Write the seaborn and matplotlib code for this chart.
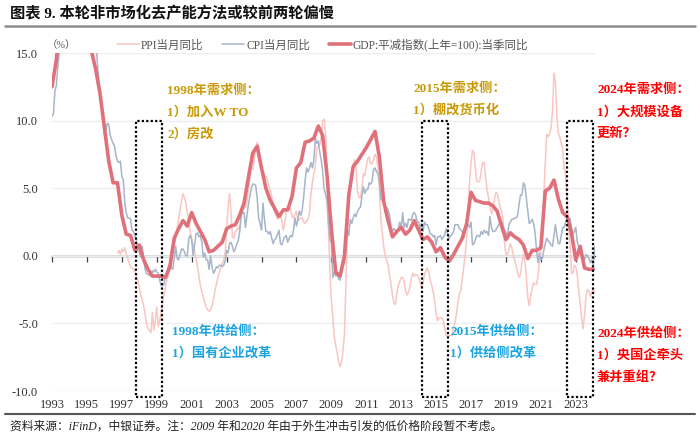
import numpy as np
import pandas as pd
import matplotlib
matplotlib.use("Agg")
import matplotlib.pyplot as plt
from matplotlib.patches import Rectangle
from matplotlib.lines import Line2D
import seaborn as sns

# CPI当月同比, 1993-01 .. 2024-02
cpi = [
    10.3, 10.5, 12.2, 12.6, 14.0, 15.1, 16.2, 16.0, 15.7, 16.1, 17.8, 18.8,
    21.1, 23.2, 22.4, 21.7, 21.3, 22.6, 24.0, 25.8, 27.4, 27.7, 27.5, 25.5,
    24.1, 22.4, 21.3, 20.7, 20.3, 18.2, 16.7, 14.5, 13.2, 12.1, 11.2, 10.1,
    9.0, 9.3, 9.8, 9.7, 8.9, 8.6, 8.3, 8.1, 7.4, 7.0, 6.9, 7.0,
    5.9, 5.6, 4.0, 3.2, 2.8, 2.8, 2.7, 1.9, 1.8, 1.5, 1.1, 0.4,
    0.3, -0.1, 0.7, -0.3, -1.0, -1.3, -1.4, -1.4, -1.5, -1.1, -1.2, -1.0,
    -1.2, -1.3, -1.8, -2.2, -2.2, -2.1, -1.4, -1.3, -0.8, -0.6, -0.9, -1.0,
    -0.2, 0.7, -0.2, -0.3, 0.1, 0.5, 0.5, 0.3, 0.0, 0.0, 1.3, 1.5,
    1.2, 0.0, 0.8, 1.6, 1.7, 1.4, 1.5, 1.0, -0.1, 0.2, -0.3, -0.3,
    -1.0, 0.0, -0.8, -1.3, -1.1, -0.8, -0.9, -0.7, -0.7, -0.8, -0.7, -0.4,
    0.4, 0.2, 0.9, 1.0, 0.7, 0.3, 0.5, 0.9, 1.1, 1.8, 3.0, 3.2,
    3.2, 2.1, 3.0, 3.8, 4.4, 5.0, 5.3, 5.3, 5.2, 4.3, 2.8, 2.4,
    1.9, 3.9, 2.7, 1.8, 1.8, 1.6, 1.8, 1.3, 0.9, 1.2, 1.3, 1.6,
    1.9, 0.9, 0.8, 1.2, 1.4, 1.5, 1.0, 1.3, 1.5, 1.4, 1.9, 2.8,
    2.2, 2.7, 3.3, 3.0, 3.4, 4.4, 5.6, 6.5, 6.2, 6.5, 6.9, 6.5,
    7.1, 8.7, 8.3, 8.5, 7.7, 7.1, 6.3, 4.9, 4.6, 4.0, 2.4, 1.2,
    1.0, -1.6, -1.2, -1.5, -1.4, -1.7, -1.8, -1.2, -0.8, -0.5, 0.6, 1.9,
    1.5, 2.7, 2.4, 2.8, 3.1, 2.9, 3.3, 3.5, 3.6, 4.4, 5.1, 4.6,
    4.9, 4.9, 5.4, 5.3, 5.5, 6.4, 6.5, 6.2, 6.1, 5.5, 4.2, 4.1,
    4.5, 3.2, 3.6, 3.4, 3.0, 2.2, 1.8, 2.0, 1.9, 1.7, 2.0, 2.5,
    2.0, 3.2, 2.1, 2.4, 2.1, 2.7, 2.7, 2.6, 3.1, 3.2, 3.0, 2.5,
    2.5, 2.0, 2.4, 1.8, 2.5, 2.3, 2.3, 2.0, 1.6, 1.6, 1.4, 1.5,
    0.8, 1.4, 1.4, 1.5, 1.2, 1.4, 1.6, 2.0, 1.6, 1.3, 1.5, 1.6,
    1.8, 2.3, 2.3, 2.3, 2.0, 1.9, 1.8, 1.3, 1.9, 2.1, 2.3, 2.1,
    2.5, 0.8, 0.9, 1.2, 1.5, 1.5, 1.4, 1.8, 1.6, 1.9, 1.7, 1.8,
    1.5, 2.9, 2.1, 1.8, 1.8, 1.9, 2.1, 2.3, 2.5, 2.5, 2.2, 1.9,
    1.7, 1.5, 2.3, 2.5, 2.7, 2.7, 2.8, 2.8, 3.0, 3.8, 4.5, 4.5,
    5.4, 5.2, 4.3, 3.3, 2.4, 2.5, 2.7, 2.4, 1.7, 0.5, -0.5, 0.2,
    -0.3, -0.2, 0.4, 0.9, 1.3, 1.1, 1.0, 0.8, 0.7, 1.5, 2.3, 1.5,
    0.9, 0.9, 1.5, 2.1, 2.1, 2.5, 2.7, 2.5, 2.8, 2.1, 1.6, 1.8,
    2.1, 1.0, 0.7, 0.1, 0.2, 0.0, -0.3, 0.1, 0.0, -0.2, -0.5, -0.3,
    -0.8, 0.7,
]

# PPI当月同比, 1996-10 .. 2024-02
ppi = [
    0.2, 0.4, 0.1,
    0.5, 0.3, 0.6, 0.2, -0.2, -0.5, -0.8, -0.9, -1.0, -1.2, -1.5, -1.8,
    -2.4, -2.9, -3.3, -3.7, -4.3, -5.0, -5.4, -5.5, -5.7, -4.2, -5.5, -4.8,
    -3.8, -5.2, -4.8, -4.2, -3.4, -2.8, -2.3, -1.8, -1.3, -1.0, -0.6, 0.2,
    0.8, 1.3, 2.0, 2.7, 3.4, 4.0, 4.6, 4.3, 3.9, 3.2, 2.5, 1.8,
    1.3, 0.8, 0.4, -0.2, -0.8, -1.5, -2.2, -2.7, -3.0, -3.5, -3.8, -4.0,
    -4.1, -4.0, -3.7, -3.2, -2.6, -2.1, -1.6, -1.2, -0.9, -0.6, -0.3, 0.2,
    2.0, 3.6, 4.6, 3.3, 1.4, 1.3, 1.8, 1.9, 2.1, 1.9, 3.0, 3.4,
    3.5, 3.6, 4.0, 5.0, 5.7, 6.4, 6.4, 7.1, 7.9, 8.4, 8.1, 7.1,
    6.6, 6.2, 5.9, 5.9, 5.6, 5.2, 4.8, 4.4, 3.9, 3.2, 3.0, 2.7,
    3.0, 3.0, 2.5, 1.9, 2.4, 3.5, 3.6, 3.4, 3.5, 2.9, 2.8, 3.1,
    3.3, 2.6, 2.7, 2.8, 2.8, 2.5, 2.4, 2.6, 2.7, 3.2, 4.6, 5.4,
    6.1, 6.6, 8.0, 8.1, 8.2, 8.8, 10.0, 10.1, 9.1, 6.6, 2.0, -1.1,
    -3.3, -4.5, -6.0, -6.6, -7.2, -7.8, -8.2, -7.9, -7.0, -5.8, -2.1, 1.7,
    4.3, 5.4, 5.9, 6.8, 7.1, 6.4, 4.8, 4.3, 4.3, 5.0, 6.1, 5.9,
    6.6, 7.2, 7.3, 6.8, 6.8, 7.1, 7.5, 7.3, 6.5, 5.0, 2.7, 1.7,
    0.7, 0.0, -0.3, -0.7, -1.4, -2.1, -2.9, -3.5, -3.6, -2.8, -2.2, -1.9,
    -1.6, -1.6, -1.9, -2.6, -2.9, -2.7, -2.3, -1.6, -1.3, -1.5, -1.4, -1.4,
    -1.6, -2.0, -2.3, -2.0, -1.4, -1.1, -0.9, -1.2, -1.8, -2.2, -2.7, -3.3,
    -4.3, -4.8, -4.6, -4.6, -4.6, -4.8, -5.4, -5.9, -5.9, -5.9, -5.9, -5.9,
    -5.3, -4.9, -4.3, -3.4, -2.8, -2.6, -1.7, -0.8, 0.1, 1.2, 3.3, 5.5,
    6.9, 7.8, 7.6, 6.4, 5.5, 5.5, 5.5, 6.3, 6.9, 6.9, 5.8, 4.9,
    4.3, 3.7, 3.1, 3.4, 4.1, 4.7, 4.6, 4.1, 3.6, 3.3, 2.7, 0.9,
    0.1, 0.1, 0.4, 0.9, 0.6, 0.0, -0.3, -0.8, -1.2, -1.6, -1.4, -0.5,
    0.1, -0.4, -1.5, -3.1, -3.7, -3.0, -2.4, -2.0, -2.1, -2.1, -1.5, -0.4,
    0.3, 1.7, 4.4, 6.8, 9.0, 8.8, 9.0, 9.5, 10.7, 13.5, 12.9, 10.3,
    9.1, 8.8, 8.3, 8.0, 6.4, 6.1, 4.2, 2.3, 0.9, -1.3, -1.3, -0.7,
    -0.8, -1.4, -2.5, -3.6, -4.6, -5.4, -4.4, -3.0, -2.5, -2.6, -3.0, -2.7,
    -2.5, -2.7,
]

# GDP:平减指数(上年=100):当季同比, 1993Q1 .. 2024Q1
gdp = [
    12.5, 14.5, 18.0, 19.5,
    21.0, 21.0, 20.5, 19.5,
    17.0, 15.2, 13.8, 12.0,
    9.5, 7.0, 5.4, 5.4,
    3.0, 1.6, 1.5, 0.4,
    0.8, -0.3, -1.0, -1.5,
    -1.5, -1.5, -1.6, -0.8,
    1.3, 2.0, 2.6, 2.2,
    3.2, 2.4, 1.8, 1.2,
    0.3, 0.4, 0.7, 1.0,
    2.0, 2.2, 2.3, 3.0,
    3.9, 5.8, 7.6, 8.1,
    6.5, 5.0, 4.1, 3.5,
    2.9, 3.4, 3.4, 4.4,
    6.5, 6.9, 8.4, 8.5,
    8.7, 9.6, 8.9, 6.0,
    2.0, -1.2, -1.5, 0.0,
    4.5, 6.6, 7.0, 7.5,
    8.0, 8.6, 9.2, 7.3,
    4.0, 2.6, 1.4, 1.8,
    2.1, 1.6, 1.9, 2.6,
    1.9, 1.2, 1.4, 1.0,
    0.3, 0.6, -0.1, -0.4,
    0.1, 0.7, 1.3, 2.4,
    4.7, 4.1, 4.0, 3.9,
    3.9, 3.7, 3.3, 2.2,
    1.2, 1.7, 1.4, 1.2,
    0.8, -0.2, 0.4, 0.4,
    0.6, 4.8, 5.0, 5.6,
    4.2, 3.2, 2.9, 1.7,
    -0.3, 0.7, -0.9, -1.0,
    -1.0,
]

year_ticks = list(range(1993, 2024, 2))
y_ticks = [-10, -5, 0, 5, 10, 15]

labels = ["PPI当月同比", "CPI当月同比", "GDP:平减指数(上年=100):当季同比"]

df_cpi = pd.DataFrame({"t": 1993 + np.arange(len(cpi)) / 12, "v": cpi})
df_ppi = pd.DataFrame({"t": 1996 + 9 / 12 + np.arange(len(ppi)) / 12, "v": ppi})
df_gdp = pd.DataFrame({"t": 1993 + np.arange(len(gdp)) / 4, "v": gdp})

sns.set_style("white")
plt.rcParams['font.family'] = ['Liberation Serif', 'Noto Sans CJK SC']
plt.rcParams['axes.unicode_minus'] = False

W, H = 700, 440
fig = plt.figure(figsize=(7, 4.4), dpi=100)
ax = fig.add_axes([52 / W, 1 - 391 / H, 543 / W, 338 / H])


def px(x, y):
    return x / W, 1 - y / H


sns.lineplot(data=df_ppi, x="t", y="v", ax=ax, color="#F9C6C2", linewidth=1.1, label=labels[0])
sns.lineplot(data=df_cpi, x="t", y="v", ax=ax, color="#A7B4C9", linewidth=1.1, label=labels[1])
sns.lineplot(data=df_gdp, x="t", y="v", ax=ax, color="#E0717A", linewidth=2.6, label=labels[2])

ax.set_xlim(1993, 2024.1)
ax.set_ylim(-10, 15)
ax.set_xlabel("")
ax.set_ylabel("")
for s in ax.spines.values():
    s.set_visible(False)
ax.set_yticks(y_ticks)
ax.set_yticklabels([f"{v:.1f}" for v in y_ticks], fontsize=9, color="#333333")
ax.set_xticks(year_ticks)
ax.set_xticklabels([str(y) for y in year_ticks], fontsize=9, color="#333333")
ax.tick_params(axis="y", length=0, pad=10)
ax.tick_params(axis="x", length=0, pad=6)
ax.grid(axis="y", color="#ECEEF2", linewidth=1)
ax.grid(axis="x", visible=False)

# zero line with small ticks
sec = ax.secondary_xaxis(0.4)
sec.set_xticks(year_ticks)
sec.tick_params(axis="x", length=4, width=0.9, color="#404040", labelbottom=False)
sec.spines["bottom"].set_color("#404040")
sec.spines["bottom"].set_linewidth(1.0)

# dotted boxes
for x0 in [1997.8, 2014.2, 2022.5]:
    ax.add_patch(Rectangle((x0, -10.45), 1.48, 20.45, fill=False, ec="black",
                           lw=1.6, ls=(0, (1, 1)), clip_on=False, zorder=5))

h, l = ax.get_legend_handles_labels()
ax.legend(h, l, loc="center left", bbox_to_anchor=px(117, 45), bbox_transform=fig.transFigure,
          ncol=3, frameon=False, fontsize=8.3, handlelength=1.9, handletextpad=0.2,
          columnspacing=1.6, borderpad=0, borderaxespad=0, labelcolor="#555555")
fig.text(*px(47, 45), "（%）", fontsize=7.5, color="#555555", va="center")

gold, blue, red = "#C99A06", "#1AA3E0", "#FF0000"
notes = [
    (167, 91, "1998年需求侧：", gold), (167, 112, "1）加入W TO", gold), (167, 134, "2）房改", gold),
    (172, 332, "1998年供给侧：", blue), (172, 353, "1）国有企业改革", blue),
    (413, 89, "2015年需求侧：", gold), (413, 110, "1）棚改货币化", gold),
    (450, 332, "2015年供给侧：", blue), (450, 353, "1）供给侧改革", blue),
    (597, 90, "2024年需求侧：", red), (597, 112, "1）大规模设备", red), (597, 134, "更新？", red),
    (597, 334, "2024年供给侧：", red), (597, 355, "1）央国企牵头", red), (597, 377, "兼并重组？", red),
]
for x, y, s, c in notes:
    fig.text(*px(x, y), s, fontsize=9.5, fontweight="bold", color=c, va="center")

fig.text(*px(10, 14), "图表 9. 本轮非市场化去产能方法或较前两轮偏慢", fontsize=11,
         fontweight="bold", color="#111111", va="center")
fig.add_artist(Line2D([5 / W, 695 / W], [1 - 26 / H] * 2, color="#8C8C8C", lw=1.8))
fig.add_artist(Line2D([5 / W, 695 / W], [1 - 414 / H] * 2, color="#555555", lw=1.5))
fig.text(*px(10, 427), "资料来源：iFinD，中银证券。注：2009 年和2020 年由于外生冲击引发的低价格阶段暂不考虑。",
         fontsize=8.5, style="italic", color="#222222", va="center")

fig.savefig("out.png", dpi=100)
